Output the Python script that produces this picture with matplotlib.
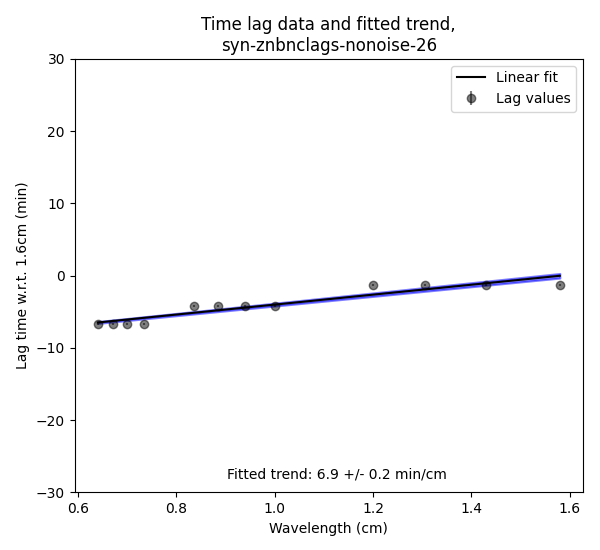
import numpy as np
import matplotlib
matplotlib.use("Agg")
import matplotlib.pyplot as plt

wavelength = np.array([0.64, 0.67, 0.70, 0.735, 0.835, 0.885, 0.94, 1.0,
                       1.2, 1.305, 1.43, 1.58])
lag = np.array([-6.7, -6.7, -6.7, -6.7, -4.2, -4.2, -4.2, -4.2,
                -1.3, -1.3, -1.3, -1.3])
lag_err = np.full(len(lag), 0.12)
slope_err = 0.2

slope, intercept = np.polyfit(wavelength, lag, 1)
xfit = np.array([wavelength.min(), wavelength.max()])

fig = plt.figure(figsize=(6, 5.5), dpi=100)
ax = fig.add_axes([0.1245, 0.105, 0.847, 0.788])

ax.fill_between(xfit, (slope - slope_err) * xfit + intercept,
                (slope + slope_err) * xfit + intercept,
                color='blue', alpha=0.5, lw=1.5, edgecolor='blue')
ax.plot(xfit, slope * xfit + intercept, color='k', label='Linear fit')
ax.errorbar(wavelength, lag, yerr=lag_err, fmt='o', color='k', alpha=0.5,
            markersize=6, label='Lag values')

ax.set_ylim(-30, 30)
ax.set_xlabel('Wavelength (cm)')
ax.set_ylabel('Lag time w.r.t. 1.6cm (min)')
ax.set_title('Time lag data and fitted trend,\nsyn-znbnclags-nonoise-26')
ax.text(1.126, 0.031, 'Fitted trend: %.1f +/- %.1f min/cm' % (slope, slope_err),
        transform=ax.get_xaxis_transform(), ha='center', va='baseline')
ax.legend(loc='upper right')

fig.savefig('out.png')
